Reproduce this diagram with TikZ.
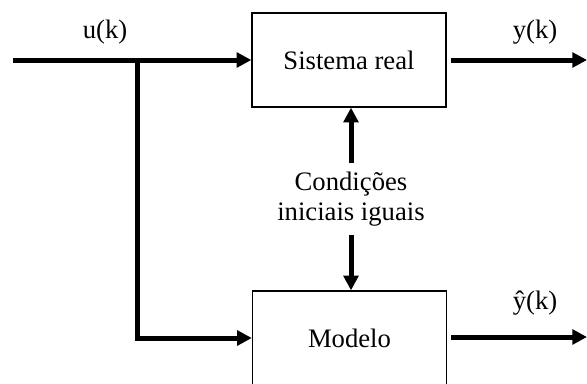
\documentclass[tikz,border=0pt]{standalone}
\usepackage{fontspec}
\setmainfont{Liberation Serif}
\usetikzlibrary{arrows.meta}
\tikzset{
  block/.style={draw, line width=1pt, minimum width=145.5pt,
                minimum height=70.5pt, inner sep=0pt},
  signal/.style={line width=3.75pt, -{Triangle[length=11pt,width=11pt]}},
  label/.style={inner sep=0pt}
}
\begin{document}
\begin{tikzpicture}[x=0.75pt, y=-0.75pt, font=\fontsize{20}{23}\selectfont]
\useasboundingbox (0,0) rectangle (587,383);

\node[block] (sis) at (349,60) {Sistema real};
\node[block] (mod) at (349.5,338) {Modelo};
\node[align=center, inner sep=0pt] (cond) at (351,199) {Condições\\iniciais iguais};

\coordinate (in) at (13,60);
\coordinate (branch) at (137,60);
\coordinate (ysis) at (587,60);
\coordinate (ymod) at (587,337);

\node[label] (ulab) at (105,32) {u(k)};
\node[label] (ylab) at (535,32) {y(k)};
\node[label] (yhatlab) at (535,303) {\^{y}(k)};

\draw[signal] (in) -- (sis.west);
\draw[signal] (branch) |- (mod.west);
\draw[signal, shorten <=3pt] (sis.east) -- (ysis);
\draw[signal, shorten <=3pt] (mod.east |- ymod) -- (ymod);

\draw[signal, shorten <=6pt] (cond.north) -- (cond |- sis.south);
\draw[signal, shorten <=6pt] (cond.south) -- (cond |- mod.north);

\end{tikzpicture}
\end{document}
